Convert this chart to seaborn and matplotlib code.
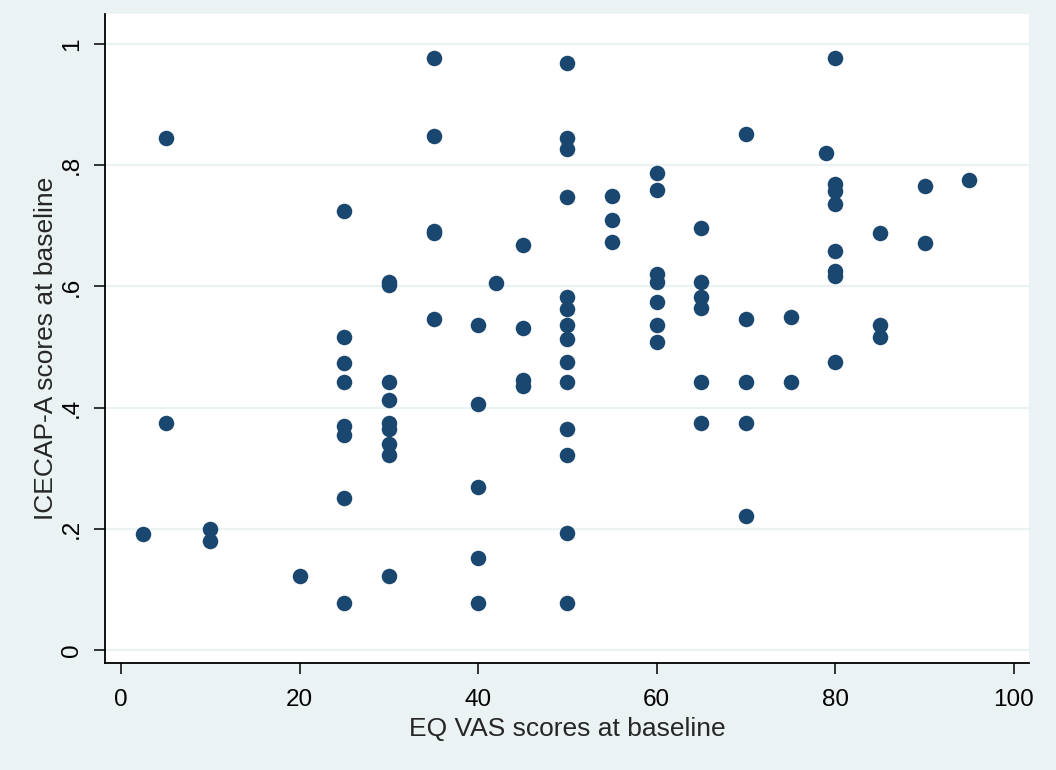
import matplotlib
matplotlib.use("Agg")
import matplotlib.pyplot as plt
import seaborn as sns
import pandas as pd

# Data (EQ VAS baseline vs ICECAP-A baseline)
eq_vas = (
    [2.5] + [5, 5] + [10, 10] + [20]
    + [25] * 8
    + [30] * 9
    + [35] * 5
    + [40] * 5
    + [42]
    + [45] * 4
    + [50] * 14
    + [55] * 3
    + [60] * 7
    + [65] * 6
    + [70] * 5
    + [75] * 2
    + [79]
    + [80] * 8
    + [85] * 3
    + [90] * 2
    + [95]
)
icecap = (
    [0.192]
    + [0.845, 0.375]
    + [0.200, 0.180]
    + [0.122]
    + [0.724, 0.517, 0.473, 0.443, 0.370, 0.355, 0.251, 0.078]
    + [0.607, 0.603, 0.443, 0.413, 0.374, 0.365, 0.340, 0.322, 0.122]
    + [0.977, 0.848, 0.691, 0.688, 0.547]
    + [0.536, 0.406, 0.269, 0.152, 0.078]
    + [0.605]
    + [0.668, 0.532, 0.446, 0.435]
    + [0.969, 0.845, 0.826, 0.747, 0.582, 0.562, 0.537, 0.514, 0.476,
       0.443, 0.364, 0.322, 0.193, 0.078]
    + [0.749, 0.709, 0.673]
    + [0.788, 0.759, 0.621, 0.608, 0.574, 0.537, 0.509]
    + [0.696, 0.608, 0.582, 0.564, 0.443, 0.374]
    + [0.851, 0.547, 0.443, 0.375, 0.221]
    + [0.550, 0.443]
    + [0.820]
    + [0.977, 0.769, 0.757, 0.736, 0.659, 0.626, 0.617, 0.476]
    + [0.688, 0.536, 0.516]
    + [0.765, 0.672]
    + [0.775]
)
x_ticks = [0, 20, 40, 60, 80, 100]
y_ticks = [0, 0.2, 0.4, 0.6, 0.8, 1.0]
y_tick_labels = ["0", ".2", ".4", ".6", ".8", "1"]
x_label = "EQ VAS scores at baseline"
y_label = "ICECAP-A scores at baseline"

df = pd.DataFrame({"eq_vas": eq_vas, "icecap": icecap})

sns.set_style("white")
plt.rcParams["font.family"] = ["Liberation Sans", "DejaVu Sans"]

bg = "#EAF2F3"
fig = plt.figure(figsize=(10.56, 7.7), dpi=100, facecolor=bg)
ax = fig.add_axes([105 / 1056, 107 / 770, (1029 - 105) / 1056, (663 - 14) / 770])
ax.set_facecolor("white")

for yv in y_ticks:
    ax.axhline(yv, color=bg, lw=1.6, zorder=0)

sns.scatterplot(data=df, x="eq_vas", y="icecap", ax=ax, color="#1a476f",
                s=125, linewidth=0, zorder=3)

ax.set_xlim(-1.8, 101.7)
ax.set_ylim(-0.0215, 1.0496)
ax.set_xticks(x_ticks)
ax.set_xticklabels([str(v) for v in x_ticks])
ax.set_yticks(y_ticks)
ax.set_yticklabels(y_tick_labels, rotation=90, va="center")

for side in ["top", "right"]:
    ax.spines[side].set_visible(False)
for side in ["left", "bottom"]:
    ax.spines[side].set_color("black")
    ax.spines[side].set_linewidth(1.3)

ax.tick_params(axis="both", direction="out", length=8, width=1.1, colors="black",
               labelsize=17.5, bottom=True, left=True)
ax.tick_params(axis="x", pad=11)
ax.tick_params(axis="y", pad=8)
ax.set_xlabel(x_label, fontsize=19, labelpad=4)
ax.set_ylabel(y_label, fontsize=19)
ax.yaxis.set_label_coords(-0.051, 0.485)

fig.savefig("out.png", dpi=100, facecolor=bg)
